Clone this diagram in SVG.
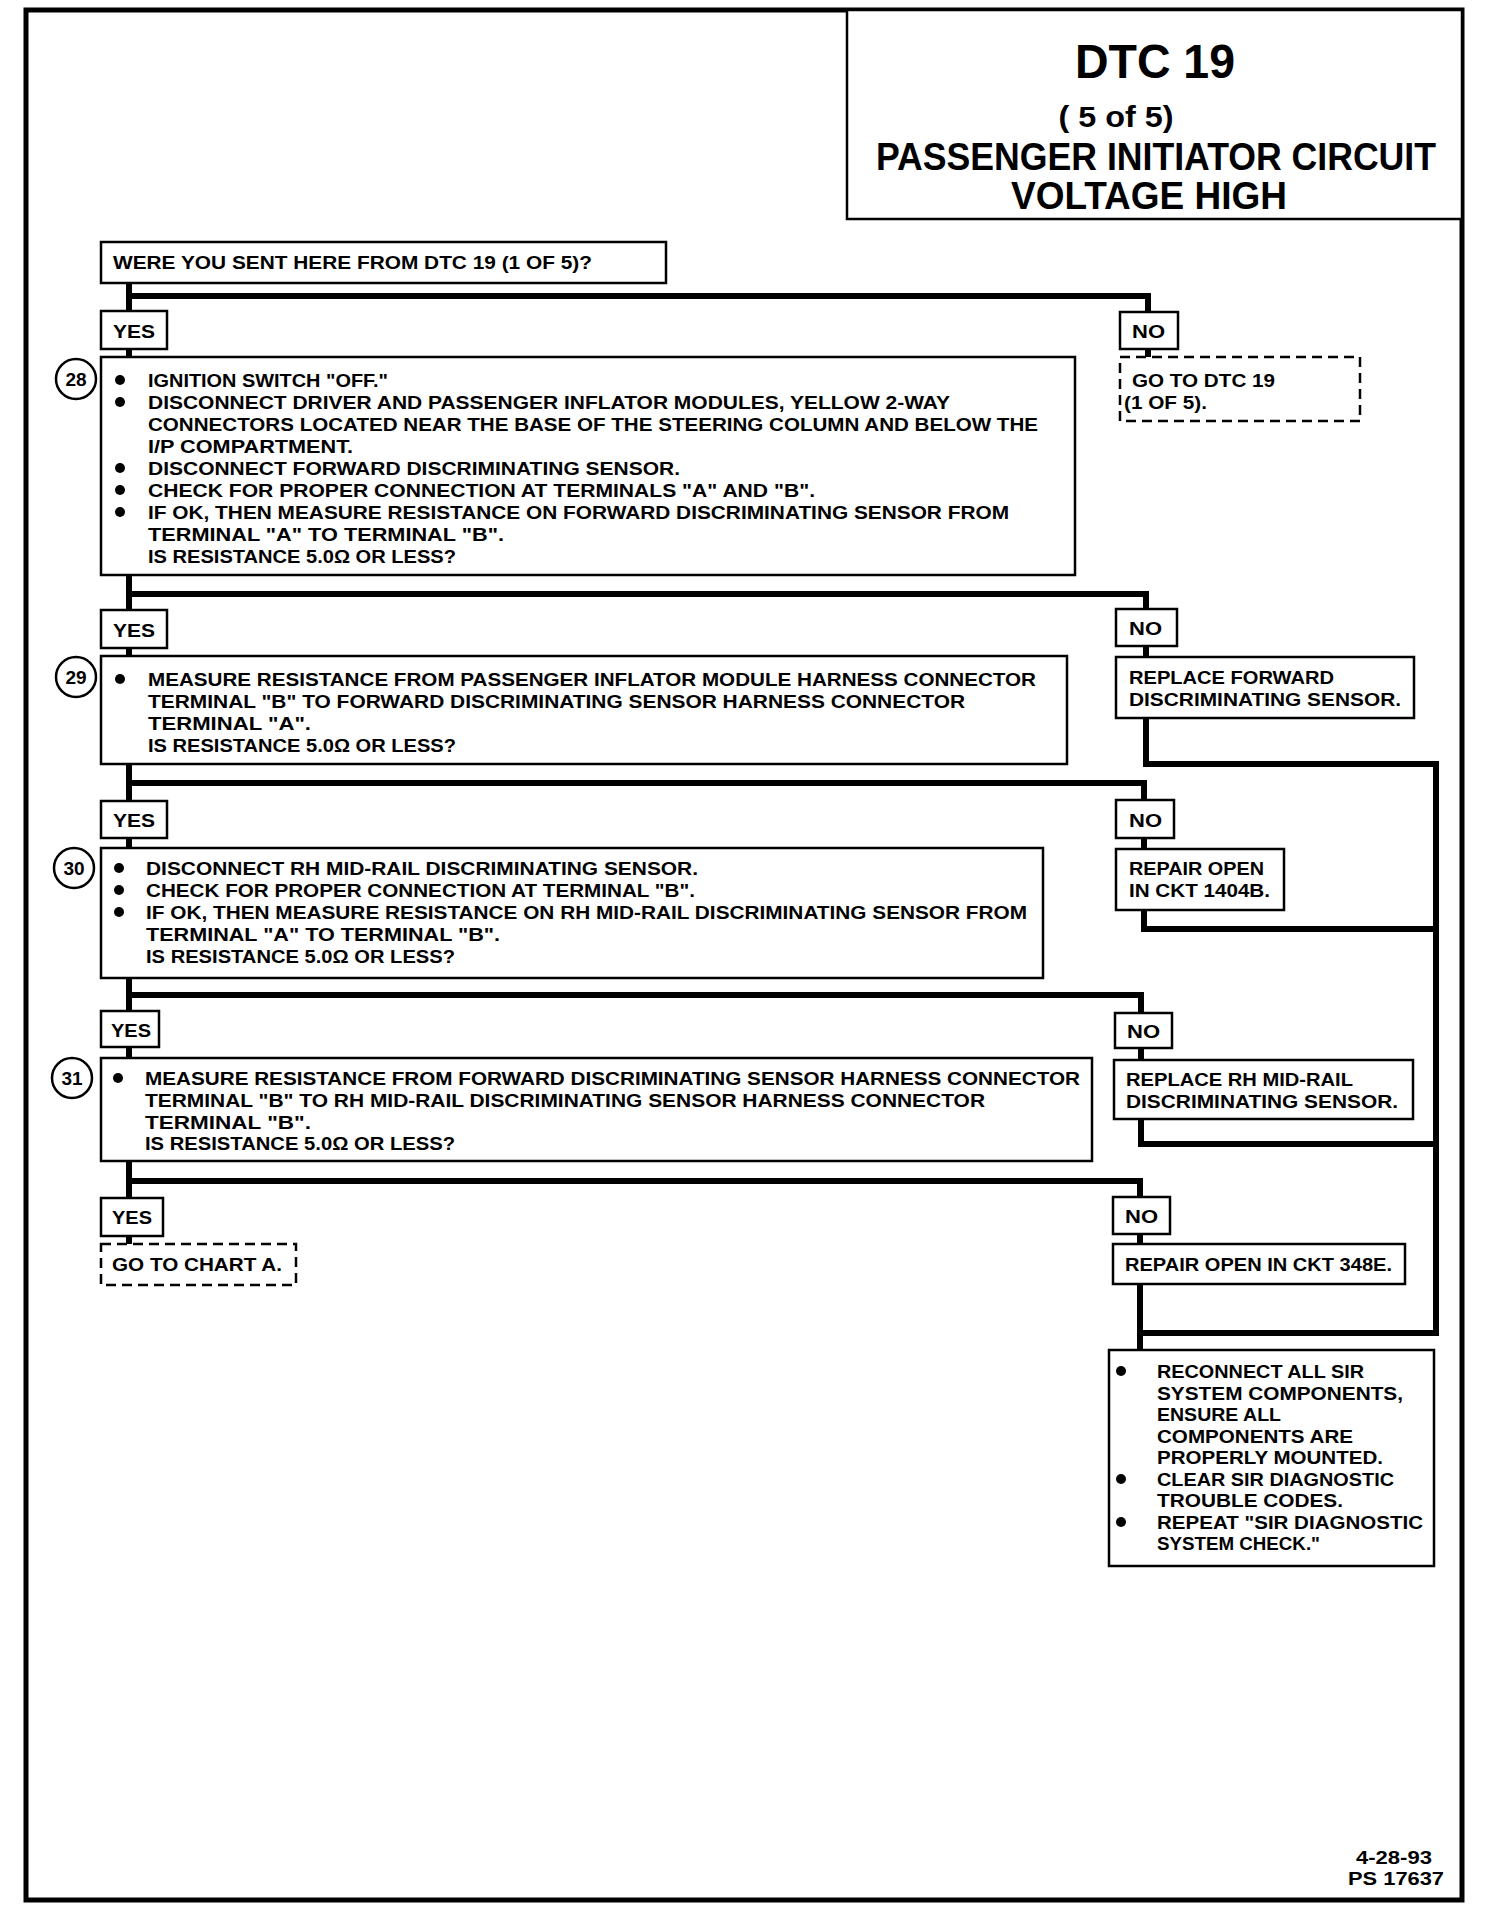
<svg xmlns="http://www.w3.org/2000/svg" width="1488" height="1910" viewBox="0 0 1488 1910">
<style>
text{font-family:"Liberation Sans",Arial,sans-serif;font-weight:bold;fill:#000}
.t{font-size:19px}
.ti{font-size:38px}
.box{fill:#fff;stroke:#000;stroke-width:2.5}
.dash{fill:#fff;stroke:#000;stroke-width:2.5;stroke-dasharray:10 6}
.circ{fill:#fff;stroke:#000;stroke-width:2.5}
.dot{fill:#000}
.con{fill:none;stroke:#000;stroke-width:6;stroke-linecap:square;stroke-linejoin:miter}
.num{font-size:19px;text-anchor:middle}
</style>
<rect x="0" y="0" width="1488" height="1910" fill="#fff"/>
<rect id="page-border" x="26" y="10" width="1436" height="1890" fill="none" stroke="#000" stroke-width="5"/>

<g id="connectors">
<path class="con" d="M129,283 V311 M129,296 H1148 V312 M129,349 V357 M1148,349 V357"/>
<path class="con" d="M129,575 V610 M129,594 H1146 V612 M129,648 V656 M1146,645 V657"/>
<path class="con" d="M129,764 V801 M129,783 H1144 V800 M129,838 V848 M1144,838 V849"/>
<path class="con" d="M129,978 V1011 M129,995 H1141 V1013 M129,1047 V1058 M1141,1048 V1060"/>
<path class="con" d="M129,1161 V1198 M129,1181 H1140 V1200 M129,1236 V1244 M1140,1236 V1244"/>
<path class="con" d="M1146,718 V764 H1436 V1333 H1140 M1144,910 V929 H1436 M1141,1119 V1144 H1436 M1140,1285 V1350"/>
</g>

<g id="title">
<rect class="box" x="847" y="10" width="615" height="209"/>
<text x="1155" y="78" font-size="48" text-anchor="middle" textLength="160" lengthAdjust="spacingAndGlyphs">DTC 19</text>
<text x="1116" y="127" font-size="30" text-anchor="middle" textLength="115" lengthAdjust="spacingAndGlyphs">( 5 of 5)</text>
<text class="ti" x="1156" y="170" text-anchor="middle" textLength="560" lengthAdjust="spacingAndGlyphs">PASSENGER INITIATOR CIRCUIT</text>
<text class="ti" x="1149" y="209" text-anchor="middle" textLength="276" lengthAdjust="spacingAndGlyphs">VOLTAGE HIGH</text>
</g>

<g id="q0">
<rect class="box" x="101" y="242" width="565" height="41"/>
<text class="t" x="113" y="269" textLength="479" lengthAdjust="spacingAndGlyphs">WERE YOU SENT HERE FROM DTC 19 (1 OF 5)?</text>
</g>

<g id="yes1"><rect class="box" x="101" y="311" width="66" height="38"/><text class="t" x="113" y="338" textLength="42" lengthAdjust="spacingAndGlyphs">YES</text></g>
<g id="no1"><rect class="box" x="1120" y="312" width="58" height="37"/><text class="t" x="1132" y="338" textLength="33" lengthAdjust="spacingAndGlyphs">NO</text></g>
<g id="goto-dtc19">
<rect class="dash" x="1120" y="357" width="240" height="64"/>
<text class="t" x="1132" y="387" textLength="143" lengthAdjust="spacingAndGlyphs">GO TO DTC 19</text>
<text class="t" x="1124" y="409" textLength="83" lengthAdjust="spacingAndGlyphs">(1 OF 5).</text>
</g>

<g id="step28">
<rect class="box" x="101" y="357" width="974" height="218"/>
<circle class="circ" cx="76" cy="379" r="20"/>
<text class="num" x="76" y="386">28</text>
<circle class="dot" cx="120" cy="380" r="5"/><circle class="dot" cx="120" cy="402" r="5"/><circle class="dot" cx="120" cy="468" r="5"/><circle class="dot" cx="120" cy="490" r="5"/><circle class="dot" cx="120" cy="512" r="5"/>
<g class="t">
<text x="148" y="387" textLength="240" lengthAdjust="spacingAndGlyphs">IGNITION SWITCH "OFF."</text>
<text x="148" y="409" textLength="802" lengthAdjust="spacingAndGlyphs">DISCONNECT DRIVER AND PASSENGER INFLATOR MODULES, YELLOW 2-WAY</text>
<text x="148" y="431" textLength="890" lengthAdjust="spacingAndGlyphs">CONNECTORS LOCATED NEAR THE BASE OF THE STEERING COLUMN AND BELOW THE</text>
<text x="148" y="453" textLength="205" lengthAdjust="spacingAndGlyphs">I/P COMPARTMENT.</text>
<text x="148" y="475" textLength="532" lengthAdjust="spacingAndGlyphs">DISCONNECT FORWARD DISCRIMINATING SENSOR.</text>
<text x="148" y="497" textLength="667" lengthAdjust="spacingAndGlyphs">CHECK FOR PROPER CONNECTION AT TERMINALS "A" AND  "B".</text>
<text x="148" y="519" textLength="861" lengthAdjust="spacingAndGlyphs">IF OK, THEN MEASURE RESISTANCE ON FORWARD DISCRIMINATING SENSOR FROM</text>
<text x="148" y="541" textLength="356" lengthAdjust="spacingAndGlyphs">TERMINAL "A" TO TERMINAL "B".</text>
<text x="148" y="563" textLength="308" lengthAdjust="spacingAndGlyphs">IS RESISTANCE 5.0Ω OR LESS?</text>
</g>
</g>

<g id="yes2"><rect class="box" x="101" y="610" width="66" height="38"/><text class="t" x="113" y="637" textLength="42" lengthAdjust="spacingAndGlyphs">YES</text></g>
<g id="no2"><rect class="box" x="1116" y="609" width="61" height="37"/><text class="t" x="1129" y="635" textLength="33" lengthAdjust="spacingAndGlyphs">NO</text></g>
<g id="replace-forward">
<rect class="box" x="1116" y="657" width="298" height="61"/>
<text class="t" x="1129" y="684" textLength="205" lengthAdjust="spacingAndGlyphs">REPLACE FORWARD</text>
<text class="t" x="1129" y="706" textLength="272" lengthAdjust="spacingAndGlyphs">DISCRIMINATING SENSOR.</text>
</g>

<g id="step29">
<rect class="box" x="101" y="656" width="966" height="108"/>
<circle class="circ" cx="76" cy="677" r="20"/>
<text class="num" x="76" y="684">29</text>
<circle class="dot" cx="120" cy="679" r="5"/>
<g class="t">
<text x="148" y="686" textLength="888" lengthAdjust="spacingAndGlyphs">MEASURE RESISTANCE FROM PASSENGER INFLATOR MODULE HARNESS CONNECTOR</text>
<text x="148" y="708" textLength="817" lengthAdjust="spacingAndGlyphs">TERMINAL "B" TO FORWARD DISCRIMINATING SENSOR HARNESS CONNECTOR</text>
<text x="148" y="730" textLength="163" lengthAdjust="spacingAndGlyphs">TERMINAL "A".</text>
<text x="148" y="752" textLength="308" lengthAdjust="spacingAndGlyphs">IS RESISTANCE 5.0Ω OR LESS?</text>
</g>
</g>

<g id="yes3"><rect class="box" x="101" y="801" width="66" height="37"/><text class="t" x="113" y="827" textLength="42" lengthAdjust="spacingAndGlyphs">YES</text></g>
<g id="no3"><rect class="box" x="1116" y="800" width="58" height="38"/><text class="t" x="1129" y="827" textLength="33" lengthAdjust="spacingAndGlyphs">NO</text></g>
<g id="repair-1404b">
<rect class="box" x="1116" y="849" width="168" height="61"/>
<text class="t" x="1129" y="875" textLength="135" lengthAdjust="spacingAndGlyphs">REPAIR OPEN</text>
<text class="t" x="1129" y="897" textLength="141" lengthAdjust="spacingAndGlyphs">IN CKT 1404B.</text>
</g>

<g id="step30">
<rect class="box" x="101" y="848" width="942" height="130"/>
<circle class="circ" cx="74" cy="868" r="20"/>
<text class="num" x="74" y="875">30</text>
<circle class="dot" cx="119" cy="868" r="5"/><circle class="dot" cx="119" cy="890" r="5"/><circle class="dot" cx="119" cy="912" r="5"/>
<g class="t">
<text x="146" y="875" textLength="552" lengthAdjust="spacingAndGlyphs">DISCONNECT RH MID-RAIL DISCRIMINATING SENSOR.</text>
<text x="146" y="897" textLength="549" lengthAdjust="spacingAndGlyphs">CHECK FOR PROPER CONNECTION AT TERMINAL "B".</text>
<text x="146" y="919" textLength="881" lengthAdjust="spacingAndGlyphs">IF OK, THEN MEASURE RESISTANCE ON RH MID-RAIL DISCRIMINATING SENSOR FROM</text>
<text x="146" y="941" textLength="354" lengthAdjust="spacingAndGlyphs">TERMINAL "A" TO TERMINAL "B".</text>
<text x="146" y="963" textLength="309" lengthAdjust="spacingAndGlyphs">IS RESISTANCE 5.0Ω OR LESS?</text>
</g>
</g>

<g id="yes4"><rect class="box" x="101" y="1011" width="58" height="36"/><text class="t" x="111" y="1037" textLength="40" lengthAdjust="spacingAndGlyphs">YES</text></g>
<g id="no4"><rect class="box" x="1115" y="1013" width="57" height="35"/><text class="t" x="1127" y="1038" textLength="33" lengthAdjust="spacingAndGlyphs">NO</text></g>
<g id="replace-rh">
<rect class="box" x="1114" y="1060" width="299" height="59"/>
<text class="t" x="1126" y="1086" textLength="227" lengthAdjust="spacingAndGlyphs">REPLACE RH MID-RAIL</text>
<text class="t" x="1126" y="1108" textLength="272" lengthAdjust="spacingAndGlyphs">DISCRIMINATING SENSOR.</text>
</g>

<g id="step31">
<rect class="box" x="101" y="1058" width="991" height="103"/>
<circle class="circ" cx="72" cy="1078" r="20"/>
<text class="num" x="72" y="1085">31</text>
<circle class="dot" cx="118" cy="1078" r="5"/>
<g class="t">
<text x="145" y="1085" textLength="935" lengthAdjust="spacingAndGlyphs">MEASURE RESISTANCE FROM FORWARD DISCRIMINATING SENSOR HARNESS CONNECTOR</text>
<text x="145" y="1107" textLength="840" lengthAdjust="spacingAndGlyphs">TERMINAL "B" TO RH MID-RAIL DISCRIMINATING SENSOR HARNESS CONNECTOR</text>
<text x="145" y="1129" textLength="166" lengthAdjust="spacingAndGlyphs">TERMINAL "B".</text>
<text x="145" y="1150" textLength="310" lengthAdjust="spacingAndGlyphs">IS RESISTANCE 5.0Ω OR LESS?</text>
</g>
</g>

<g id="yes5"><rect class="box" x="101" y="1198" width="62" height="38"/><text class="t" x="112" y="1224" textLength="40" lengthAdjust="spacingAndGlyphs">YES</text></g>
<g id="no5"><rect class="box" x="1113" y="1197" width="57" height="37"/><text class="t" x="1125" y="1223" textLength="33" lengthAdjust="spacingAndGlyphs">NO</text></g>
<g id="goto-chart-a">
<rect class="dash" x="101" y="1244" width="195" height="41"/>
<text class="t" x="112" y="1271" textLength="170" lengthAdjust="spacingAndGlyphs">GO TO CHART A.</text>
</g>
<g id="repair-348e">
<rect class="box" x="1113" y="1244" width="292" height="40"/>
<text class="t" x="1125" y="1271" textLength="267" lengthAdjust="spacingAndGlyphs">REPAIR OPEN IN CKT 348E.</text>
</g>

<g id="final">
<rect class="box" x="1109" y="1350" width="325" height="216"/>
<circle class="dot" cx="1121" cy="1371" r="5"/><circle class="dot" cx="1121" cy="1479" r="5"/><circle class="dot" cx="1121" cy="1522" r="5"/>
<g class="t">
<text x="1157" y="1378" textLength="207" lengthAdjust="spacingAndGlyphs">RECONNECT ALL SIR</text>
<text x="1157" y="1400" textLength="246" lengthAdjust="spacingAndGlyphs">SYSTEM COMPONENTS,</text>
<text x="1157" y="1421" textLength="124" lengthAdjust="spacingAndGlyphs">ENSURE ALL</text>
<text x="1157" y="1443" textLength="196" lengthAdjust="spacingAndGlyphs">COMPONENTS ARE</text>
<text x="1157" y="1464" textLength="226" lengthAdjust="spacingAndGlyphs">PROPERLY MOUNTED.</text>
<text x="1157" y="1486" textLength="237" lengthAdjust="spacingAndGlyphs">CLEAR SIR DIAGNOSTIC</text>
<text x="1157" y="1507" textLength="186" lengthAdjust="spacingAndGlyphs">TROUBLE CODES.</text>
<text x="1157" y="1529" textLength="266" lengthAdjust="spacingAndGlyphs">REPEAT "SIR DIAGNOSTIC</text>
<text x="1157" y="1550" textLength="163" lengthAdjust="spacingAndGlyphs">SYSTEM CHECK."</text>
</g>
</g>

<g id="footer">
<text class="t" x="1432" y="1864" text-anchor="end" textLength="76" lengthAdjust="spacingAndGlyphs">4-28-93</text>
<text class="t" x="1444" y="1885" text-anchor="end" textLength="96" lengthAdjust="spacingAndGlyphs">PS 17637</text>
</g>
</svg>
